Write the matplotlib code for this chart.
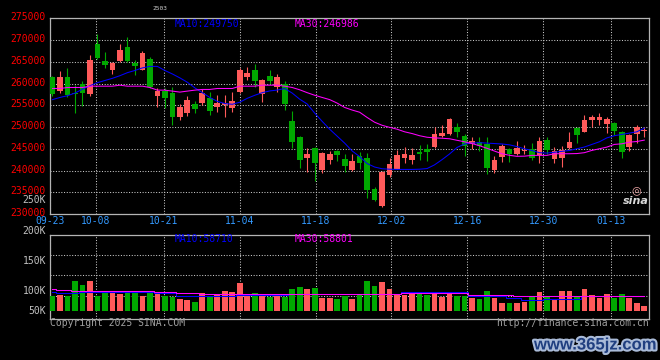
import matplotlib
matplotlib.use("Agg")
import matplotlib.pyplot as plt
import matplotlib.patheffects as pe
import matplotlib.transforms as mtransforms
import numpy as np

plt.rcParams['font.family'] = ['DejaVu Sans Mono']

title = "2503"
date_labels = ["09-23", "10-08", "10-21", "11-04", "11-18", "12-02", "12-16", "12-30", "01-13"]
label_day_index = [0, 6, 15, 25, 35, 45, 55, 65, 74]

opens = [261440, 258330, 261440, 257650, 260000, 257580, 269090, 265230, 263180, 265080,
         268480, 264700, 263180, 265530, 257120, 258330, 257880, 252270, 253330, 255300,
         255610, 256740, 254700, 255080, 254470, 258110, 261440, 263030, 257580, 261670,
         259090, 260000, 251440, 247730, 242800, 245230, 240150, 242420, 244390, 242550,
         240080, 243260, 242800, 235760, 231890, 238860, 240450, 242800, 242350, 244240,
         244850, 245380, 248030, 248330, 250080, 248030, 246060, 246590, 246140, 240080,
         243110, 245000, 243710, 244390, 245000, 243480, 247050, 242650, 242880, 245150,
         249770, 248940, 251670, 251670, 250760, 250910, 248940, 245380, 248410, 249170]
highs = [261700, 262880, 263640, 259620, 260530, 266670, 271360, 267350, 264900, 269090,
         270760, 265300, 267580, 266210, 259020, 258860, 259090, 255300, 257120, 256060,
         258640, 258030, 257350, 257350, 258030, 263640, 263710, 264390, 261140, 263030,
         262120, 260610, 253710, 248030, 245230, 245450, 244240, 244390, 244700, 243710,
         243860, 244170, 244090, 236140, 240000, 242950, 244620, 245380, 245230, 245760,
         246060, 249920, 250380, 251970, 250830, 248410, 247800, 247650, 247800, 243260,
         246140, 245100, 246740, 245760, 246290, 247650, 247800, 245380, 245680, 248860,
         249920, 252800, 252800, 253260, 252350, 251140, 249020, 248410, 250530, 249920]
lows = [257200, 257730, 256970, 253180, 254850, 257200, 265680, 263560, 262120, 264920,
        264850, 262050, 263000, 258940, 254700, 254320, 250530, 251670, 252580, 253180,
        255080, 252800, 253560, 252270, 253560, 257730, 260760, 259240, 255830, 260000,
        258110, 253940, 245230, 240530, 239700, 237500, 239470, 241440, 242200, 239700,
        239920, 240450, 233790, 232950, 231520, 238560, 240300, 241740, 241590, 242500,
        242200, 245230, 247650, 248260, 247650, 243260, 245000, 244470, 239170, 239500,
        241890, 241890, 243480, 243860, 242500, 241740, 243710, 241740, 240830, 245000,
        246290, 248790, 250080, 250530, 248560, 248110, 242880, 244470, 246290, 247800]
closes = [257580, 261440, 257350, 257500, 257730, 265300, 265910, 264240, 264700, 267800,
          265080, 264020, 266970, 259090, 258330, 256670, 252270, 254550, 256210, 254240,
          257880, 253710, 255610, 255450, 255910, 263030, 262350, 260610, 260910, 260530,
          261520, 255300, 246520, 242420, 243710, 241670, 244090, 243860, 243480, 240950,
          242120, 241740, 235530, 233110, 239700, 241440, 243480, 243710, 243480, 243860,
          244240, 248330, 248560, 251740, 248790, 245530, 246740, 245680, 240610, 242500,
          245530, 243710, 245230, 244620, 242950, 246890, 244620, 244470, 244620, 246670,
          248110, 251670, 252200, 252350, 251890, 249170, 244240, 248180, 250080, 249390]
ma10 = [256300, 256800, 257200, 257800, 258700, 259500, 260200, 260700, 261200, 261800,
        262500, 263000, 263600, 263940, 263940, 263000, 262200, 261300, 260300, 259000,
        257900, 256800, 255900, 255400, 255230, 255700, 256600, 257300, 257900, 258300,
        258500, 258860, 257800, 256400, 255300, 253200, 251300, 249500, 247900, 246300,
        244500, 243200, 241600, 240800, 240400, 240300, 240250, 240250, 240250, 240300,
        240450, 241300, 242500, 243800, 245300, 246100, 246300, 246400, 246300, 246200,
        246100, 245900, 245500, 245000, 244600, 244100, 244000, 244200, 244400, 244600,
        245000, 245400, 246000, 246600, 247500, 248000, 248300, 248600, 248900, 249750]
ma30 = [258860, 258860, 259090, 259090, 259090, 259390, 259390, 259390, 259390, 259620,
        259390, 259390, 259390, 259090, 258480, 258480, 258260, 258030, 258260, 258480,
        258640, 258640, 258860, 258860, 258860, 259390, 259390, 259390, 259620, 259620,
        259620, 259390, 259090, 258560, 257900, 257300, 256800, 256300, 255500, 254500,
        253900, 253400, 252200, 251100, 250400, 249920, 249500, 248900, 248500, 248000,
        247650, 247500, 247420, 247300, 246950, 246600, 246200, 245700, 245100, 244470,
        243860, 243500, 243260, 243300, 243480, 243480, 243480, 243860, 243860, 243860,
        243900, 244100, 244620, 245000, 245380, 246000, 246140, 246520, 246670, 246986]
volumes = [57, 61, 57, 116, 100, 116, 57, 70, 70, 65,
           70, 70, 57, 70, 65, 57, 55, 46, 42, 35,
           70, 57, 65, 78, 74, 109, 57, 70, 61, 55,
           57, 55, 85, 94, 85, 89, 51, 51, 46, 57,
           48, 61, 116, 96, 112, 87, 61, 61, 65, 65,
           61, 74, 55, 65, 59, 57, 51, 46, 78, 52,
           31, 31, 31, 35, 59, 74, 57, 46, 78, 78,
           57, 85, 61, 52, 65, 52, 65, 52, 31, 18]
vol_ma10 = [75, 71.5, 71.5, 71.5, 75, 75, 75, 75, 75, 75,
            75, 75, 75, 75, 71.5, 71.5, 71.5, 58.5, 58.5, 58.5,
            58.5, 58.5, 58.5, 58.5, 58.5, 62.4, 62.4, 62.4, 62.4, 62.4,
            62.4, 62.4, 66.3, 66.3, 66.3, 66.3, 66.3, 66.3, 66.3, 66.3,
            66.3, 66.3, 66.3, 66.3, 66.3, 66.3, 66.3, 75.4, 75.4, 75.4,
            75.4, 75.4, 75.4, 75.4, 75.4, 75.4, 58.5, 58.5, 58.5, 58.5,
            58.5, 52, 52, 43, 43, 43, 47, 47, 47, 47,
            47, 58.5, 58.5, 58.5, 58.5, 58.5, 58.5, 58.5, 58.5, 58.7]
vol_ma30 = [84.5, 80.6, 80.6, 78, 78, 78, 78, 78, 78, 78,
            78, 78, 78, 78, 72.8, 72.8, 72.8, 68.9, 68.9, 68.9,
            66.3, 66.3, 66.3, 66.3, 66.3, 66.3, 66.3, 66.3, 66.3, 66.3,
            66.3, 66.3, 66.3, 66.3, 66.3, 66.3, 66.3, 66.3, 66.3, 66.3,
            66.3, 66.3, 66.3, 66.3, 66.3, 66.3, 66.3, 68.9, 68.9, 68.9,
            68.9, 68.9, 68.9, 68.9, 68.9, 68.9, 62.4, 62.4, 62.4, 62.4,
            62.4, 62.4, 57.2, 57.2, 57.2, 57.2, 57.2, 57.2, 57.2, 57.2,
            57.2, 57.2, 57.2, 57.2, 57.2, 57.2, 57.2, 57.2, 57.2, 58.8]
price_ticks = list(range(230000, 275001, 5000))
vol_tick_labels = ["250K", "200K", "150K", "100K", "50K"]
ma_legend = ["MA10:249750", "MA30:246986"]
vol_legend = ["MA10:58710", "MA30:58801"]

# ---------------- styling / layout ----------------
W, H = 660.0, 360.0
LEFT, RIGHT = 50.0, 649.3
RED = '#ff5a5a'
GREEN = '#00a800'
GRID = '#c8c8c8'
FRAME = '#b4b4b4'
GRIDSTYLE = (0, (1, 1.6))
FS = 7
LW = 0.75

def rect(top, bottom):
    return [LEFT / W, 1 - bottom / H, (RIGHT - LEFT) / W, (bottom - top) / H]

fig = plt.figure(figsize=(6.6, 3.6), dpi=100, facecolor='black')
ax = fig.add_axes(rect(18.3, 214.0))
axv = fig.add_axes(rect(234.7, 318.7))

n = len(closes)
x = np.arange(n)
xlim = (-1 / 3, n - 1 / 3)
tick_pos = [d * n / (n - 1) - 1 / 3 for d in label_day_index]

for a in (ax, axv):
    a.set_facecolor('black')
    a.set_xlim(*xlim)
    a.set_axisbelow(True)
    for s in a.spines.values():
        s.set_color(FRAME)
        s.set_linewidth(0.9)
    a.set_xticks(tick_pos)
    a.grid(True, color=GRID, linestyle=GRIDSTYLE, linewidth=0.75)

# ---------------- price panel ----------------
o = np.array(opens); h = np.array(highs); l = np.array(lows); c = np.array(closes)
up = c >= o
colors = np.where(up, RED, GREEN)
ax.vlines(x, l, h, colors=colors, linewidth=0.8, zorder=2)
body_bottom = np.minimum(o, c)
body_h = np.maximum(np.abs(c - o), 230)
ax.bar(x, body_h, bottom=body_bottom, width=0.76, color=colors, linewidth=0, zorder=3)
ax.plot(x, ma10, color='#0000ff', linewidth=LW, zorder=4)
ax.plot(x, ma30, color='#ff00ff', linewidth=LW, zorder=4)
ax.set_ylim(price_ticks[0], price_ticks[-1])
ax.set_yticks(price_ticks)
ax.set_yticklabels([str(v) for v in price_ticks])
ax.tick_params(axis='y', length=0, pad=2.9, labelcolor='#ff0000', labelsize=FS)
up_shift = mtransforms.ScaledTranslation(0, 2.0 / 100, fig.dpi_scale_trans)
for lab in ax.get_yticklabels():
    lab.set_transform(lab.get_transform() + up_shift)
ax.set_xticklabels(date_labels)
ax.tick_params(axis='x', length=0, pad=1.6, labelcolor='#3399ff', labelsize=FS)

# ---------------- volume panel ----------------
axv.bar(x, volumes, width=0.76, color=colors, linewidth=0, zorder=3)
axv.plot(x, vol_ma10, color='#0000ff', linewidth=LW, drawstyle='steps-mid', zorder=4)
axv.plot(x, vol_ma30, color='#ff00ff', linewidth=LW, drawstyle='steps-mid', zorder=4)
K_PER_PX = 3.9
vlo = -(318.7 - 311.0) * K_PER_PX
vhi = (311.0 - 234.7) * K_PER_PX
axv.set_ylim(vlo, vhi)
step = 20.3 * K_PER_PX
axv.set_yticks([vhi - k * step for k in (1, 2, 3)])
axv.set_yticklabels([])
axv.set_xticklabels([])
axv.tick_params(length=0)
vol_label_y = [200.3, 230.7, 260.7, 290.7, 310.7]
for lab, py in zip(vol_tick_labels, vol_label_y):
    axv.text(-4.0 / (RIGHT - LEFT), (318.7 - py) / 84.0, lab, transform=axv.transAxes,
             ha='right', va='center', color='#c0c0c0', fontsize=FS, clip_on=False)

# ---------------- texts ----------------
def ftext(px, py, s, **kw):
    fig.text(px / W, 1 - py / H, s, **kw)

ftext(160, 9, title, ha='center', va='center', color='#d0d0d0', fontsize=4.5)
ftext(175, 23.7, ma_legend[0], ha='left', va='center', color='#0000ff', fontsize=FS)
ftext(295, 23.7, ma_legend[1], ha='left', va='center', color='#ff00ff', fontsize=FS)
ftext(175, 238.5, vol_legend[0], ha='left', va='center', color='#0000ff', fontsize=FS)
ftext(295, 238.5, vol_legend[1], ha='left', va='center', color='#ff00ff', fontsize=FS)
ftext(50, 323.5, "Copyright 2025 SINA.COM", ha='left', va='center', color='#a0a0a0', fontsize=FS)
ftext(649, 323.5, "http://finance.sina.com.cn", ha='right', va='center', color='#a0a0a0', fontsize=FS)
ftext(636, 190, "\u25ce", ha='center', va='center', color='#f0a8a8', fontsize=8,
      family=['DejaVu Sans'])
ftext(636, 201, "sina", ha='center', va='center', color='#d8d8d8', fontsize=8,
      weight='bold', style='italic', family=['DejaVu Sans'])
ftext(595, 345, "www.365jz.com", ha='center', va='center', color='#203f80', fontsize=12,
      weight='bold', family=['Liberation Sans'],
      path_effects=[pe.withStroke(linewidth=3, foreground='#aabbd8')])

fig.savefig('out.png', dpi=100, facecolor='black')
